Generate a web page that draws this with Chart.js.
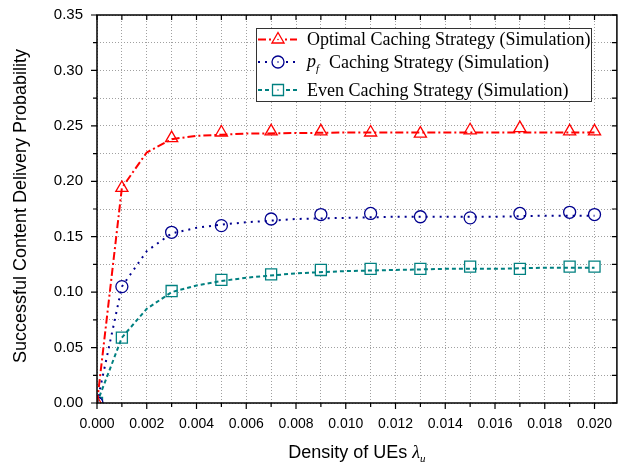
<!DOCTYPE html>
<html>
<head>
<meta charset="utf-8">
<script src="https://cdn.jsdelivr.net/npm/chart.js@4.4.0/dist/chart.umd.min.js"></script>
<style>
  html, body { margin: 0; padding: 0; background: #fff; }
  #wrap { width: 626px; height: 463px; }
</style>
</head>
<body>
<div id="wrap"><canvas id="chart"></canvas></div>
<script>
// simulation points (markers)
const markerX = [0, 0.001, 0.003, 0.005, 0.007, 0.009, 0.011, 0.013, 0.015, 0.017, 0.019, 0.020];
const optimalSim = [0, 0.194, 0.239, 0.244, 0.245, 0.245, 0.244, 0.243, 0.246, 0.248, 0.245, 0.245];
const pfSim = [0, 0.105, 0.154, 0.160, 0.166, 0.170, 0.171, 0.168, 0.167, 0.171, 0.172, 0.170];
const evenSim = [0, 0.059, 0.101, 0.111, 0.116, 0.120, 0.121, 0.121, 0.123, 0.121, 0.123, 0.123];

// connecting curves
const curveX = [0, 0.001, 0.002, 0.003, 0.004, 0.005, 0.006, 0.008, 0.010, 0.012, 0.014, 0.016, 0.018, 0.020];
const optimalCurve = [0, 0.194, 0.226, 0.238, 0.241, 0.242, 0.243, 0.2435, 0.244, 0.244, 0.244, 0.244, 0.244, 0.244];
const pfCurve = [0, 0.105, 0.137, 0.153, 0.158, 0.161, 0.163, 0.166, 0.167, 0.168, 0.168, 0.168, 0.169, 0.169];
const evenCurve = [0, 0.059, 0.085, 0.100, 0.106, 0.110, 0.113, 0.117, 0.119, 0.120, 0.121, 0.121, 0.122, 0.122];

const RED = '#ff0000';
const BLUE = '#00008f';
const TEAL = '#008080';

function pts(xs, ys) {
  return xs.map((x, i) => ({ x: x, y: ys[i] }));
}

function curve(ys, color, dash) {
  return {
    data: pts(curveX, ys),
    showLine: true,
    borderColor: color,
    borderWidth: 2,
    borderDash: dash,
    pointRadius: 0,
    fill: false,
    tension: 0,
    clip: 0
  };
}

function markers(ys, color, style, r) {
  return {
    data: pts(markerX, ys),
    showLine: false,
    pointStyle: style,
    pointRadius: r,
    pointBorderColor: color,
    pointBackgroundColor: '#fff',
    pointBorderWidth: 1.3,
    clip: 0
  };
}

function centerDots(ys, color) {
  return {
    data: pts(markerX, ys),
    showLine: false,
    pointStyle: 'circle',
    pointRadius: 0.8,
    pointBorderWidth: 0,
    pointBackgroundColor: color,
    clip: 0
  };
}

const legendItems = [
  { color: RED, dash: [8, 3, 2, 3], style: 'triangle', text: 'Optimal Caching Strategy (Simulation)' },
  { color: BLUE, dash: [2, 5], style: 'circle', text: 'pf' },
  { color: TEAL, dash: [4, 3], style: 'rect', text: 'Even Caching Strategy (Simulation)' }
];

function drawMarker(ctx, style, x, y, color) {
  ctx.save();
  ctx.setLineDash([]);
  ctx.strokeStyle = color;
  ctx.fillStyle = '#fff';
  ctx.lineWidth = 1.3;
  ctx.beginPath();
  if (style === 'triangle') {
    const r = 7;
    ctx.moveTo(x, y - r);
    ctx.lineTo(x + r * 0.866, y + r * 0.5);
    ctx.lineTo(x - r * 0.866, y + r * 0.5);
    ctx.closePath();
  } else if (style === 'circle') {
    ctx.arc(x, y, 6, 0, Math.PI * 2);
  } else {
    ctx.rect(x - 5.5, y - 5.5, 11, 11);
  }
  ctx.fill();
  ctx.stroke();
  ctx.fillStyle = color;
  ctx.beginPath();
  ctx.arc(x, y, 0.8, 0, Math.PI * 2);
  ctx.fill();
  ctx.restore();
}

const decorations = {
  id: 'decorations',
  afterDraw(chart) {
    const ctx = chart.ctx;
    const a = chart.chartArea;
    const xs = chart.scales.x;
    const ys = chart.scales.y;
    ctx.save();

    // frame
    ctx.strokeStyle = '#000';
    ctx.lineWidth = 1.5;
    ctx.strokeRect(a.left, a.top, a.right - a.left, a.bottom - a.top);

    // tick marks
    ctx.lineWidth = 1.2;
    ctx.beginPath();
    xs.ticks.forEach(t => {
      const k = Math.round(t.value * 1000);
      const px = xs.getPixelForValue(t.value);
      const len = k % 2 === 0 ? 6 : 4;
      ctx.moveTo(px, a.bottom); ctx.lineTo(px, a.bottom + len);
      ctx.moveTo(px, a.top); ctx.lineTo(px, a.top + 5);
    });
    ys.ticks.forEach(t => {
      const k = Math.round(t.value / 0.025);
      const py = ys.getPixelForValue(t.value);
      const len = k % 2 === 0 ? 6 : 4;
      ctx.moveTo(a.left, py); ctx.lineTo(a.left - len, py);
      ctx.moveTo(a.right, py); ctx.lineTo(a.right - 5, py);
    });
    ctx.stroke();

    // legend
    const bx = 256, by = 28, bw = 335, bh = 73;
    ctx.fillStyle = '#fff';
    ctx.fillRect(bx, by, bw, bh);
    ctx.strokeStyle = '#333';
    ctx.lineWidth = 1;
    ctx.strokeRect(bx + 0.5, by + 0.5, bw, bh);
    const rowY = [39.5, 62, 90];
    legendItems.forEach((it, i) => {
      const y = rowY[i];
      ctx.save();
      ctx.strokeStyle = it.color;
      ctx.lineWidth = 2;
      ctx.setLineDash(it.dash);
      ctx.beginPath();
      ctx.moveTo(258, y); ctx.lineTo(297, y);
      ctx.stroke();
      ctx.restore();
      drawMarker(ctx, it.style, 278, y, it.color);
      ctx.fillStyle = '#000';
      ctx.textBaseline = 'middle';
      ctx.textAlign = 'left';
      if (it.text === 'pf') {
        ctx.font = 'italic 18px "Liberation Serif", "Times New Roman", serif';
        ctx.fillText('p', 307, y);
        ctx.font = 'italic 11px "Liberation Serif", "Times New Roman", serif';
        ctx.fillText('f', 316, y + 7);
        ctx.font = '18px "Liberation Serif", "Times New Roman", serif';
        ctx.fillText('Caching Strategy (Simulation)', 329, y + 1);
      } else {
        ctx.font = '18px "Liberation Serif", "Times New Roman", serif';
        ctx.fillText(it.text, 307, y + 1);
      }
    });

    // y axis title
    ctx.save();
    ctx.translate(21, 206);
    ctx.rotate(-Math.PI / 2);
    ctx.font = '18px "Liberation Sans", Arial, sans-serif';
    ctx.fillStyle = '#000';
    ctx.textAlign = 'center';
    ctx.textBaseline = 'middle';
    ctx.fillText('Successful Content Delivery Probability', 0, 0);
    ctx.restore();

    // x axis title
    const main = 'Density of UEs ';
    ctx.textBaseline = 'alphabetic';
    ctx.textAlign = 'left';
    ctx.font = '18px "Liberation Sans", Arial, sans-serif';
    const w1 = ctx.measureText(main).width;
    ctx.font = 'italic 18px "Liberation Serif", "Times New Roman", serif';
    const w2 = ctx.measureText('\u03bb').width;
    ctx.font = 'italic 11px "Liberation Serif", "Times New Roman", serif';
    const w3 = ctx.measureText('u').width;
    let x0 = (a.left + a.right) / 2 - (w1 + w2 + w3) / 2;
    const base = 458;
    ctx.fillStyle = '#000';
    ctx.font = '18px "Liberation Sans", Arial, sans-serif';
    ctx.fillText(main, x0, base);
    ctx.font = 'italic 18px "Liberation Serif", "Times New Roman", serif';
    ctx.fillText('\u03bb', x0 + w1, base);
    ctx.font = 'italic 11px "Liberation Serif", "Times New Roman", serif';
    ctx.fillText('u', x0 + w1 + w2, base + 4);

    ctx.restore();
  }
};

new Chart(document.getElementById('chart'), {
  type: 'scatter',
  data: {
    datasets: [
      curve(optimalCurve, RED, [8, 3, 2, 3]),
      curve(pfCurve, BLUE, [2, 5]),
      curve(evenCurve, TEAL, [4, 3]),
      markers(optimalSim, RED, 'triangle', 7),
      markers(pfSim, BLUE, 'circle', 6),
      markers(evenSim, TEAL, 'rect', 7.8),
      centerDots(optimalSim, RED),
      centerDots(pfSim, BLUE),
      centerDots(evenSim, TEAL)
    ]
  },
  options: {
    responsive: true,
    maintainAspectRatio: false,
    animation: false,
    layout: { padding: { top: 15, right: 8, left: 0, bottom: 0 } },
    plugins: {
      legend: { display: false },
      tooltip: { enabled: false }
    },
    scales: {
      x: {
        type: 'linear',
        min: 0,
        max: 0.0209,
        afterFit: s => { s.height = 60; },
        grid: { color: '#a0a0a0', lineWidth: 1, drawTicks: false },
        border: { display: false, dash: [1, 2] },
        ticks: {
          stepSize: 0.001,
          includeBounds: false,
          autoSkip: false,
          maxRotation: 0,
          padding: 13,
          color: '#000',
          font: { family: '"Liberation Sans", Arial, sans-serif', size: 14 },
          callback: v => {
            const k = Math.round(v * 1000);
            if (Math.abs(v * 1000 - k) > 0.01) return null;
            return k % 2 === 0 ? v.toFixed(3) : '';
          }
        }
      },
      y: {
        min: 0,
        max: 0.35,
        afterFit: s => { s.width = 97; },
        grid: { color: '#a0a0a0', lineWidth: 1, drawTicks: false },
        border: { display: false, dash: [1, 2] },
        ticks: {
          stepSize: 0.025,
          autoSkip: false,
          padding: 14,
          color: '#000',
          font: { family: '"Liberation Sans", Arial, sans-serif', size: 15, lineHeight: 0.13 },
          callback: v => {
            const k = Math.round(v / 0.025);
            return k % 2 === 0 ? v.toFixed(2) : '';
          }
        }
      }
    }
  },
  plugins: [decorations]
});
</script>
</body>
</html>
